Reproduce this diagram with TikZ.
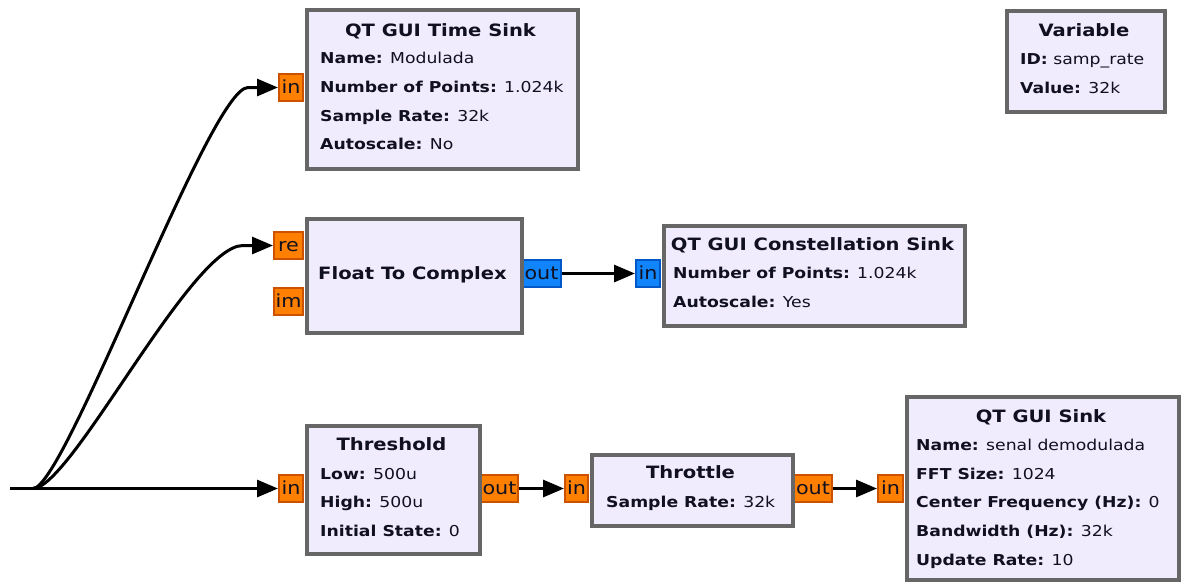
\documentclass[tikz,border=0pt]{standalone}
\usepackage{fontspec}
\setmainfont{DejaVu Sans}[FakeStretch=1.15]
\usetikzlibrary{arrows.meta}

\definecolor{blockfill}{RGB}{241,235,254}
\definecolor{blockedge}{RGB}{102,102,102}
\definecolor{portfill}{RGB}{255,128,0}
\definecolor{portedge}{RGB}{204,82,0}
\definecolor{cportfill}{RGB}{16,132,250}
\definecolor{cportedge}{RGB}{0,88,200}
\definecolor{ink}{RGB}{16,16,32}

\tikzset{
  blk/.style={draw=blockedge, fill=blockfill, line width=4pt, inner sep=0pt, anchor=north west},
  fport/.style={draw=portedge, fill=portfill, line width=2pt, inner sep=0pt,
    minimum height=27pt, text=ink, font=\fontsize{18}{18}\selectfont,
    text height=12.5pt, text depth=0pt},
  cport/.style={fport, draw=cportedge, fill=cportfill},
  ttl/.style={inner sep=0pt, text=ink, font=\fontsize{17}{17}\selectfont\bfseries,
    text height=12.4pt, text depth=0pt},
  row/.style={inner sep=0pt, anchor=west, text=ink, font=\fontsize{15}{15}\selectfont,
    text height=11pt, text depth=0pt},
  wire/.style={line width=3pt, -{Triangle[length=21pt,width=17pt]}},
}

\begin{document}
\begin{tikzpicture}[x=1pt, y=-1pt]
\useasboundingbox (0,0) rectangle (1183,581);

% ---------- ports (drawn first, block borders overlap them) ----------
\node[fport, minimum width=24pt, anchor=east] (ts-in)  at (304,87.5)  {in};
\node[fport, minimum width=29pt, anchor=east] (fc-re)  at (304,245.5) {re};
\node[fport, minimum width=29pt, anchor=east] (fc-im)  at (304,301.5) {im};
\node[cport, minimum width=39pt, anchor=west] (fc-out) at (521,273.5) {out};
\node[cport, minimum width=24pt, anchor=east] (cs-in)  at (661,273.5) {in};
\node[fport, minimum width=24pt, anchor=east] (th-in)  at (304,488.5) {in};
\node[fport, minimum width=37pt, anchor=west] (th-out) at (480,488.5) {out};
\node[fport, minimum width=23pt, anchor=east] (tr-in)  at (589,488.5) {in};
\node[fport, minimum width=38pt, anchor=west] (tr-out) at (793,488.5) {out};
\node[fport, minimum width=25pt, anchor=east] (sk-in)  at (904,488.5) {in};

% ---------- QT GUI Time Sink ----------
\node[blk, minimum width=271pt, minimum height=159pt] (ts) at (305,8) {};
\node[ttl] (ts-t) at (440.5,30) {QT GUI Time Sink};
\node[row] (ts-a) at (320,58)  {\textbf{Name:} Modulada};
\node[row] (ts-b) at (320,87)  {\textbf{Number of Points:} 1.024k};
\node[row] (ts-c) at (320,116) {\textbf{Sample Rate:} 32k};
\node[row] (ts-d) at (320,144) {\textbf{Autoscale:} No};

% ---------- Variable ----------
\node[blk, minimum width=158pt, minimum height=101pt] (var) at (1005,9) {};
\node[ttl] (var-t) at (1084,30) {Variable};
\node[row] (var-a) at (1020,59) {\textbf{ID:} samp\_rate};
\node[row] (var-b) at (1020,88) {\textbf{Value:} 32k};

% ---------- Float To Complex ----------
\node[blk, minimum width=215pt, minimum height=114pt] (fc) at (305,217) {};
\node[ttl] (fc-t) at (412.5,273) {Float To Complex};

% ---------- QT GUI Constellation Sink ----------
\node[blk, minimum width=301pt, minimum height=100pt] (cs) at (662,224) {};
\node[ttl] (cs-t) at (812.5,244) {QT GUI Constellation Sink};
\node[row] (cs-a) at (673,273) {\textbf{Number of Points:} 1.024k};
\node[row] (cs-b) at (673,302) {\textbf{Autoscale:} Yes};

% ---------- Threshold ----------
\node[blk, minimum width=173pt, minimum height=128pt] (th) at (305,424) {};
\node[ttl] (th-t) at (391.5,444) {Threshold};
\node[row] (th-a) at (320,474) {\textbf{Low:} 500u};
\node[row] (th-b) at (320,502) {\textbf{High:} 500u};
\node[row] (th-c) at (320,531) {\textbf{Initial State:} 0};

% ---------- Throttle ----------
\node[blk, minimum width=201pt, minimum height=71pt] (tr) at (590,453) {};
\node[ttl] (tr-t) at (690.5,472) {Throttle};
\node[row] (tr-a) at (606,502) {\textbf{Sample Rate:} 32k};

% ---------- QT GUI Sink ----------
\node[blk, minimum width=272pt, minimum height=183pt] (sk) at (905,395) {};
\node[ttl] (sk-t) at (1041,416) {QT GUI Sink};
\node[row] (sk-a) at (916,445) {\textbf{Name:} senal demodulada};
\node[row] (sk-b) at (916,474) {\textbf{FFT Size:} 1024};
\node[row] (sk-c) at (916,502) {\textbf{Center Frequency (Hz):} 0};
\node[row] (sk-d) at (916,531) {\textbf{Bandwidth (Hz):} 32k};
\node[row] (sk-e) at (916,560) {\textbf{Update Rate:} 10};

% ---------- connections ----------
\coordinate (src)  at (10,488.5);
\coordinate (fork) at (33,488.5);

\draw[wire] (src) -- (th-in.west);
\draw[wire] (fork) .. controls +(32,0) and +(-38,0) .. ([xshift=-30pt]ts-in.west) -- (ts-in.west);
\draw[wire] (fork) .. controls +(38,0) and +(-52,0) .. ([xshift=-30pt]fc-re.west) -- (fc-re.west);
\draw[wire] (fc-out.east) -- (cs-in.west);
\draw[wire] (th-out.east) -- (tr-in.west);
\draw[wire] (tr-out.east) -- (sk-in.west);
\end{tikzpicture}
\end{document}
